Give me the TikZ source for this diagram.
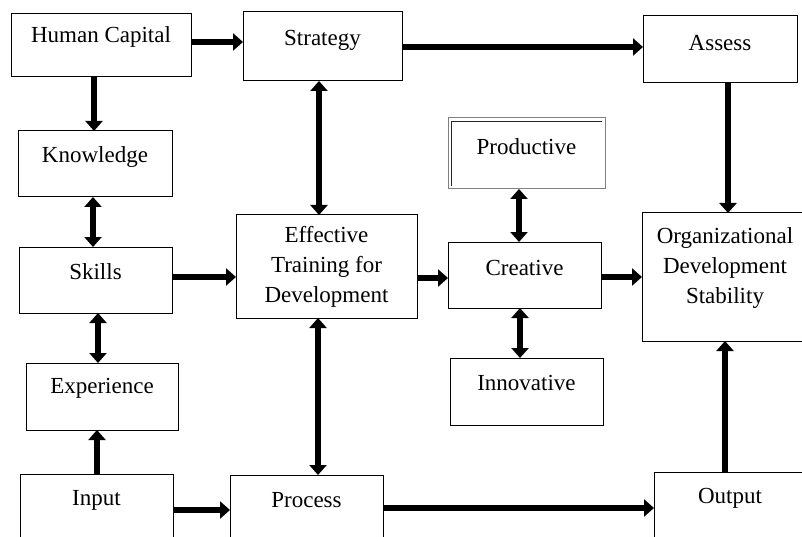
\documentclass[tikz,border=0pt]{standalone}
\usepackage{fontspec}
\setmainfont{Liberation Serif}
\usetikzlibrary{arrows.meta}
\begin{document}
\begin{tikzpicture}[x=1pt,y=-1pt,
  box/.style={draw=black,line width=1pt,rectangle,inner sep=0pt,outer sep=0pt},
  lbl/.style={inner sep=0pt,font=\fontsize{23}{30}\selectfont,align=center},
  arr/.style={line width=6pt,-{Triangle[width=17pt,length=10pt]}},
  darr/.style={line width=6pt,{Triangle[width=17pt,length=10pt]}-{Triangle[width=17pt,length=10pt]}}]
\useasboundingbox (0,0) rectangle (802,537);
\clip (0,0) rectangle (802,537);
% boxes
\node[box,minimum width=180pt,minimum height=63pt] (hc) at (101,45.5) {};
\node[lbl] (hct) at (101,37) {Human Capital};
\node[box,minimum width=159pt,minimum height=69pt] (st) at (322.5,46.5) {};
\node[lbl] (stt) at (322.5,40) {Strategy};
\node[box,minimum width=154pt,minimum height=67pt] (as) at (720,49.5) {};
\node[lbl] (ast) at (720,43) {Assess};
\node[box,minimum width=154pt,minimum height=66pt] (kn) at (95,164) {};
\node[lbl] (knt) at (95,157) {Knowledge};
\node[box,draw=gray,minimum width=157pt,minimum height=71pt] (pr) at (526.5,153.5) {};
\draw[line width=1pt,black!85] (451,186) -- (451,121.5) -- (602,121.5);
\node[lbl] (prt) at (526.5,147) {Productive};
\node[box,minimum width=153pt,minimum height=66pt] (sk) at (95.5,280) {};
\node[lbl] (skt) at (95.5,272) {Skills};
\node[box,minimum width=181pt,minimum height=103pt] (ef) at (326.5,266.5) {};
\node[lbl] (eft) at (326.5,267) {Effective\\Training for\\Development};
\node[box,minimum width=153pt,minimum height=66pt] (cr) at (524.5,275) {};
\node[lbl] (crt) at (524.5,268) {Creative};
\node[box,minimum width=166pt,minimum height=128pt] (og) at (725,277) {};
\node[lbl] (ogt) at (725,268) {Organizational\\Development\\Stability};
\node[box,minimum width=152pt,minimum height=67pt] (ex) at (102,396.5) {};
\node[lbl] (ext) at (102,388) {Experience};
\node[box,minimum width=153pt,minimum height=67pt] (in) at (526.5,391.5) {};
\node[lbl] (int) at (526.5,383) {Innovative};
\node[box,minimum width=153pt,minimum height=86pt] (ip) at (96.5,517) {};
\node[lbl] (ipt) at (96.5,500) {Input};
\node[box,minimum width=153pt,minimum height=85pt] (pc) at (306.5,517.5) {};
\node[lbl] (pct) at (306.5,500) {Process};
\node[box,minimum width=152pt,minimum height=88pt] (ou) at (730,516) {};
\node[lbl] (out) at (730,498) {Output};
% connectors
\draw[arr] (hc.east |- 0,42) -- (st.west |- 0,42);
\draw[arr] (hc.south -| 94,0) -- (kn.north -| 94,0);
\draw[arr] (st.east |- 0,47) -- (as.west |- 0,47);
\draw[darr] (st.south -| 319,0) -- (ef.north -| 319,0);
\draw[darr] (kn.south -| 93,0) -- (sk.north -| 93,0);
\draw[arr] (sk.east |- 0,277) -- (ef.west |- 0,277);
\draw[darr] (sk.south -| 98,0) -- (ex.north -| 98,0);
\draw[arr] (ip.north -| 97,0) -- (ex.south -| 97,0);
\draw[darr] (ef.south -| 318,0) -- (pc.north -| 318,0);
\draw[arr] (ip.east |- 0,510) -- (pc.west |- 0,510);
\draw[arr] (pc.east |- 0,508) -- (ou.west |- 0,508);
\draw[arr] (ou.north -| 725,0) -- (og.south -| 725,0);
\draw[arr] (as.south -| 728,0) -- (og.north -| 728,0);
\draw[arr] (ef.east |- 0,278) -- (cr.west |- 0,278);
\draw[arr] (cr.east |- 0,277) -- (og.west |- 0,277);
\draw[darr] (pr.south -| 519,0) -- (cr.north -| 519,0);
\draw[darr] (cr.south -| 520,0) -- (in.north -| 520,0);
\end{tikzpicture}
\end{document}
